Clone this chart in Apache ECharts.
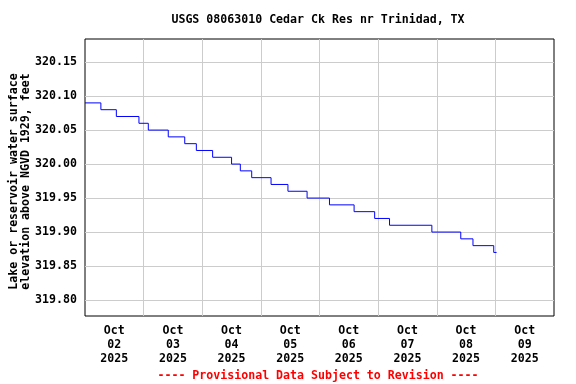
<!DOCTYPE html>
<html>
<head>
<meta charset="utf-8">
<script src="https://cdn.jsdelivr.net/npm/echarts@6/dist/echarts.min.js"></script>
<style>html,body{margin:0;padding:0;background:#fff}#c{width:576px;height:384px}</style>
</head>
<body>
<div id="c"></div>
<script>
var stepTimes = ['2025-10-02T00:00','2025-10-02T06:30','2025-10-02T12:50','2025-10-02T22:05',
  '2025-10-03T01:55','2025-10-03T10:05','2025-10-03T16:50','2025-10-03T21:35',
  '2025-10-04T04:15','2025-10-04T12:00','2025-10-04T15:35','2025-10-04T20:15',
  '2025-10-05T04:10','2025-10-05T11:05','2025-10-05T18:55','2025-10-06T04:05',
  '2025-10-06T14:10','2025-10-06T22:35','2025-10-07T04:40','2025-10-07T22:00',
  '2025-10-08T09:50','2025-10-08T14:50','2025-10-08T23:20','2025-10-09T00:30'];
var stepValues = [320.09,320.08,320.07,320.06,320.05,320.04,320.03,320.02,320.01,320.00,
  319.99,319.98,319.97,319.96,319.95,319.94,319.93,319.92,319.91,319.90,319.89,319.88,319.87,319.87];
var yTicks = [319.80,319.85,319.90,319.95,320.00,320.05,320.10,320.15];
var xStart = '2025-10-02', xEnd = '2025-10-10';
var dayLabels = ['2025-10-02','2025-10-03','2025-10-04','2025-10-05','2025-10-06','2025-10-07','2025-10-08','2025-10-09'];
var dayLines = ['2025-10-03','2025-10-04','2025-10-05','2025-10-06','2025-10-07','2025-10-08','2025-10-09'];
var months = ['Jan','Feb','Mar','Apr','May','Jun','Jul','Aug','Sep','Oct','Nov','Dec'];

function toMs(s){ return new Date(s.length === 10 ? s + 'T00:00' : s).getTime(); }
var data = stepTimes.map(function(t,i){ return [toMs(t), stepValues[i]]; });
var HALF_DAY = 43200000;
var labelVals = dayLabels.map(function(s){ return toMs(s) + HALF_DAY; });
var lineVals = dayLines.map(toMs);
var FONT = '"DejaVu Sans Mono", monospace';

var chart = echarts.init(document.getElementById('c'), null, {renderer:'canvas'});
chart.setOption({
  animation: false,
  title: [
    {text: 'USGS 08063010 Cedar Ck Res nr Trinidad, TX', left: 313, top: 9, textAlign: 'center',
     textStyle: {fontFamily: FONT, fontWeight: 'bold', fontSize: 11.6, color: '#000'}},
    {text: '---- Provisional Data Subject to Revision ----', left: 313, top: 365, textAlign: 'center',
     textStyle: {fontFamily: FONT, fontWeight: 'bold', fontSize: 11.6, color: '#ff0000'}}
  ],
  grid: {left: 85, right: 22, top: 39, bottom: 68, show: true, borderColor: '#000', borderWidth: 1,
         containLabel: false, outerBoundsMode: 'none'},
  xAxis: {
    type: 'value',
    min: toMs(xStart), max: toMs(xEnd),
    axisLine: {show: false},
    axisTick: {show: false, customValues: lineVals},
    splitLine: {show: true, lineStyle: {color: '#cccccc', width: 1}},
    axisLabel: {
      customValues: labelVals, margin: 8,
      fontFamily: FONT, fontWeight: 'bold', fontSize: 11.6, color: '#000', lineHeight: 14,
      formatter: function(v){
        var d = new Date(v);
        var dd = ('0' + d.getDate()).slice(-2);
        return months[d.getMonth()] + '\n' + dd + '\n' + d.getFullYear();
      }
    }
  },
  yAxis: {
    type: 'value',
    min: 319.7765, max: 320.184,
    name: 'Lake or reservoir water surface\nelevation above NGVD 1929, feet',
    nameLocation: 'middle', nameRotate: 90, nameGap: 53, nameMoveOverlap: false,
    nameTextStyle: {fontFamily: FONT, fontWeight: 'bold', fontSize: 11.6, color: '#000', lineHeight: 12,
                    padding: [0, 8, 0, 0]},
    axisLine: {show: false},
    axisTick: {show: false, customValues: yTicks},
    splitLine: {show: true, lineStyle: {color: '#cccccc', width: 1}},
    axisLabel: {
      customValues: yTicks, margin: 8,
      fontFamily: FONT, fontWeight: 'bold', fontSize: 11.6, color: '#000',
      formatter: function(v){ return v.toFixed(2); }
    }
  },
  series: [{
    type: 'line', step: 'end', data: data, showSymbol: false, symbol: 'none',
    lineStyle: {color: '#0000ff', width: 1}, itemStyle: {color: '#0000ff'}, silent: true
  }]
});
</script>
</body>
</html>
